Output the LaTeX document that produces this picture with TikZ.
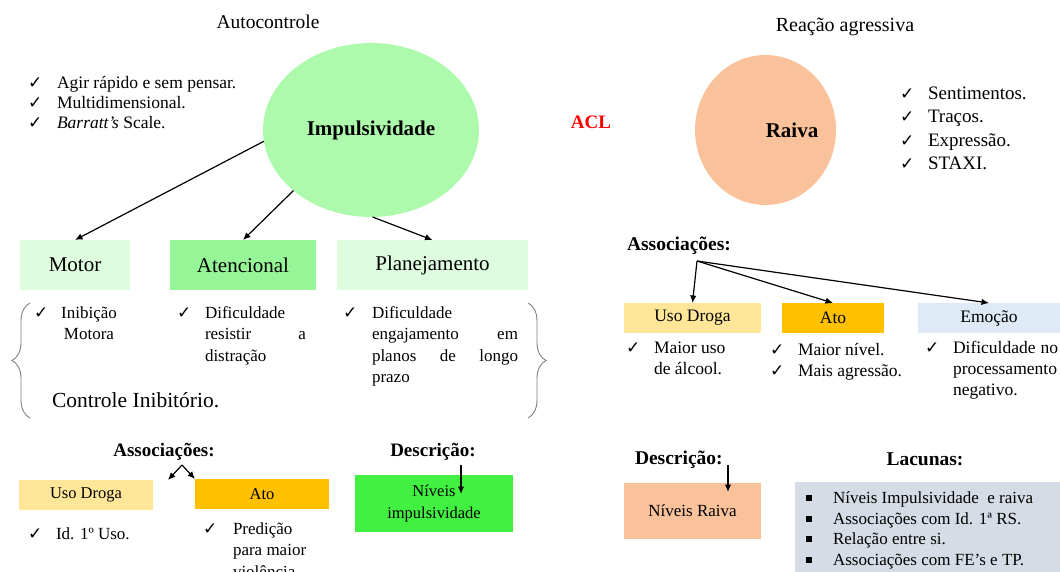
\documentclass[tikz,border=0pt]{standalone}
\usepackage{fontspec}
\setmainfont{Liberation Serif}
\newfontfamily\symfont{DejaVu Sans}
\usetikzlibrary{arrows.meta,decorations.pathreplacing,shapes.geometric}

\definecolor{impg}{RGB}{173,250,173}
\definecolor{mintl}{RGB}{222,252,222}
\definecolor{mintm}{RGB}{150,245,150}
\definecolor{vgreen}{RGB}{66,240,66}
\definecolor{yel}{RGB}{255,230,153}
\definecolor{amber}{RGB}{255,192,0}
\definecolor{peach}{RGB}{249,194,154}
\definecolor{paleblue}{RGB}{222,235,247}
\definecolor{lacg}{RGB}{214,220,229}
\definecolor{bracegray}{RGB}{128,128,128}

\newcommand\fz[2]{\fontsize{#1}{#2}\selectfont}
\newcommand\ck{{\symfont\fontsize{17}{17}\selectfont ✓}}
% check-mark item: name, check x, text x, baseline y, content
\newcommand\chk[5]{%
  \node[anchor=base west] (#1c) at (#2,#4) {\ck};
  \node[anchor=base west] (#1) at (#3,#4) {#5};}

\tikzset{
  every node/.style={inner sep=0pt, outer sep=0pt},
  arr/.style={-{Latex[length=7.5pt,width=6.5pt]}, line width=1.2pt, black},
  brc/.style={decorate, decoration={brace, amplitude=18pt}, draw=bracegray, line width=0.9pt},
}

\begin{document}
\begin{tikzpicture}[x=1pt,y=-1pt]
\useasboundingbox (0,0) rectangle (1060,572);

% ---------- Impulsividade ----------
\node[anchor=base] (autot) at (268,29) {\fz{19.5}{19.5}Autocontrole};
\node[ellipse, fill=impg, minimum width=216pt, minimum height=174pt] (imp) at (371,130)
  {\fz{21}{21}\bfseries Impulsividade};

\chk{ag}{28}{57}{89}{\fz{17.5}{17.5}Agir rápido e sem pensar.}
\chk{mu1}{28}{57}{109}{\fz{17.5}{17.5}Multidimensional.}
\chk{ba}{28}{57}{129}{\fz{17.5}{17.5}{\itshape Barratt’s} Scale.}

\node[fill=mintl, minimum width=110pt, minimum height=50pt] (motor) at (75,265) {\fz{21}{21}Motor};
\node[fill=mintm, minimum width=146pt, minimum height=50pt] (aten) at (243,265) {\fz{21}{21}Atencional};
\node[fill=mintl, minimum width=191pt, minimum height=50pt] (plan) at (432.5,265) {\fz{21}{21}Planejamento};

\draw[arr] (imp.186) -- (motor.north);
\draw[arr] (imp.218) -- (aten.north);
\draw[arr] (imp.-89) -- (plan.north);

% inhibitory control group
\draw[brc] (30,418) -- (30,303);
\draw[brc] (528,303) -- (528,418);

\chk{ini}{34}{61}{318}{\parbox[t]{56pt}{\fz{17}{21.5}\centering Inibição\\Motora}}
\chk{dif}{177}{205}{318}{\parbox[t]{101pt}{\fz{17}{21.5}Dificuldade\\\makebox[\linewidth][s]{resistir\hfill a}\\distração}}
\chk{eng}{343}{372}{318}{\parbox[t]{146pt}{\fz{17}{21.5}Dificuldade\\\makebox[\linewidth][s]{engajamento\hfill em}\\\makebox[\linewidth][s]{planos\hfill de\hfill longo}\\prazo}}
\node[anchor=base west] (ctrl) at (52,407) {\fz{21.5}{21.5}Controle Inibitório.};

% associations and description (impulsivity)
\node[anchor=base] (assocL) at (164,456) {\fz{19}{19}\bfseries Associações:};
\coordinate (vL) at (182,465);
\coordinate (vLa) at (168,480);
\coordinate (vLb) at (195,479);
\draw[arr] (vL) -- (vLa);
\draw[arr] (vL) -- (vLb);

\node[fill=yel, minimum width=134pt, minimum height=30pt] (udL) at (86,495) {\fz{16.5}{16.5}Uso Droga};
\node[fill=amber, minimum width=134pt, minimum height=30pt] (atoL) at (262,494) {\fz{16.5}{16.5}Ato};

\chk{idu}{28}{56}{539}{\fz{17}{17}Id. 1º Uso.}
\chk{pred}{203}{233}{534}{\parbox[t]{80pt}{\fz{17}{21.5}Predição\\para maior\\violência.}}

\node[anchor=base] (descL) at (433,456) {\fz{19}{19}\bfseries Descrição:};
\node[fill=vgreen, minimum width=158pt, minimum height=57pt, align=center,
      font=\fz{16.5}{22}] (nivI) at (434,503.5) {Níveis\\impulsividade};
\coordinate (dL1) at (461,465);
\coordinate (dL2) at (461,494);
\draw[arr] (dL1) -- (dL2);

% ---------- Raiva ----------
\node[anchor=base, text=red] (acl) at (591,129) {\fz{19}{19}\bfseries ACL};
\node[anchor=base] (reac) at (845,32) {\fz{20}{20}Reação agressiva};
\node[ellipse, fill=peach, minimum width=141pt, minimum height=150pt] (raiva) at (765.5,130) {};
\node (raivat) at (792,130) {\fz{21}{21}\bfseries Raiva};

\chk{se}{900}{928}{100}{\fz{19}{19}Sentimentos.}
\chk{tr}{900}{928}{123}{\fz{19}{19}Traços.}
\chk{ex}{900}{928}{147}{\fz{19}{19}Expressão.}
\chk{st}{900}{928}{170}{\fz{19}{19}STAXI.}

\node[anchor=base west] (assocR) at (627,251) {\fz{19.5}{19.5}\bfseries Associações:};
\coordinate (hubR) at (697,261);
\node[fill=yel, minimum width=137pt, minimum height=30pt] (udR) at (692.5,318) {\fz{17.5}{17.5}Uso Droga};
\node[fill=amber, minimum width=102pt, minimum height=30pt] (atoR) at (833,318) {\fz{17.5}{17.5}Ato};
\node[fill=paleblue, minimum width=142pt, minimum height=30pt] (emo) at (989,318) {\fz{17.5}{17.5}Emoção};
\draw[arr] (hubR) -- (udR.north);
\draw[arr] (hubR) -- (atoR.north);
\draw[arr] (hubR) -- (emo.north);

\chk{mai}{626}{654}{353}{\parbox[t]{80pt}{\fz{17.5}{21}Maior uso\\de álcool.}}
\chk{mn}{770}{798}{355}{\fz{17.5}{17.5}Maior nível.}
\chk{ma}{770}{798}{376}{\fz{17.5}{17.5}Mais agressão.}
\chk{dn}{925}{953}{353}{\parbox[t]{105pt}{\fz{17.5}{21}\makebox[\linewidth][s]{Dificuldade\hfill no}\\processamento\\negativo.}}

\node[anchor=base west] (descR) at (635,464) {\fz{19.5}{19.5}\bfseries Descrição:};
\node[fill=peach, minimum width=137pt, minimum height=56pt] (nivR) at (692.5,511) {\fz{17}{17}Níveis Raiva};
\coordinate (dR1) at (728,465);
\coordinate (dR2) at (728,492);
\draw[arr] (dR1) -- (dR2);

% gaps
\node[anchor=base] (lact) at (925,465) {\fz{19.5}{19.5}\bfseries Lacunas:};
\node[fill=lacg, minimum width=265pt, minimum height=95pt, anchor=north west] (lacb) at (795,482) {};
\foreach \yy/\tx [count=\i] in {503/{Níveis Impulsividade\ \ e raiva},
                                 524/{Associações com Id. 1ª RS.},
                                 544/{Relação entre si.},
                                 565/{Associações com FE’s e TP.}}{
  \node[fill=black, minimum width=5.5pt, minimum height=5.5pt] (lacbul\i) at (809,\yy-5) {};
  \node[anchor=base west] (lac\i) at (833,\yy) {\fz{17}{17}\tx};
}
\end{tikzpicture}
\end{document}
